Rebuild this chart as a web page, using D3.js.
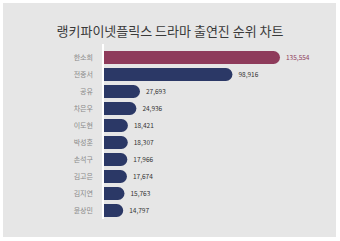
<!DOCTYPE html>
<html>
<head>
<meta charset="utf-8">
<script src="https://cdn.jsdelivr.net/npm/d3@7"></script>
<style>
  body { margin: 0; background: #fff; }
  text { font-family: "Noto Sans CJK KR", "Noto Sans", sans-serif; }
</style>
</head>
<body>
<div id="chart"></div>
<script>
// chart data
const names = ["한소희", "전종서", "공유", "차은우", "이도현", "박성훈", "손석구", "김고은", "김지연", "윤상민"];
const scores = [135554, 98916, 27693, 24936, 18421, 18307, 17966, 17674, 15763, 14797];
const title = "랭키파이넷플릭스 드라마 출연진 순위 차트";

function makeChart() {
    let svgWidth = 340;
    let svgHeight = 241;
    let margin = { top: 47, right: 60, bottom: 20, left: 104 };

    let w = svgWidth - margin.left - margin.right;
    let h = svgHeight - margin.top - margin.bottom;

    let svg = d3.select("#chart")
        .append("svg")
        .attr("width", svgWidth)
        .attr("height", svgHeight);

    // panel background
    svg.append("rect")
        .attr("x", 3).attr("y", 3)
        .attr("width", 333).attr("height", 234)
        .attr("fill", "#e6e6e6");

    svg.append("text")
        .attr("x", 170)
        .attr("y", 36)
        .attr("text-anchor", "middle")
        .attr("font-size", "13px")
        .attr("fill", "#3a3a3a")
        .text(title);

    let chartGroup = svg.append("g")
        .attr("transform", `translate(${margin.left}, ${margin.top})`);

    let x = d3.scaleLinear()
        .domain([0, d3.max(scores)])
        .range([0, 176]);

    let y = d3.scaleBand()
        .domain(names)
        .range([0, h])
        .padding(0.24);

    // white baseline
    chartGroup.append("line")
        .attr("x1", -1).attr("x2", -1)
        .attr("y1", -3).attr("y2", h - 2)
        .attr("stroke", "#fff")
        .attr("stroke-width", 2);

    // bar with rounded right end
    function barPath(d, i) {
        let bw = x(scores[i]);
        let bh = y.bandwidth();
        let r = Math.min(bh / 2, bw);
        let y0 = y(d);
        return `M0,${y0}H${bw - r}A${r},${r} 0 0 1 ${bw},${y0 + r}`
            + `V${y0 + bh - r}A${r},${r} 0 0 1 ${bw - r},${y0 + bh}H0Z`;
    }

    chartGroup.selectAll("path.bar")
        .data(names)
        .enter()
        .append("path")
        .attr("class", "bar")
        .attr("d", barPath)
        .attr("fill", (d, i) => i === 0 ? "#8e3b5b" : "#2b3866");

    chartGroup.selectAll("text.name")
        .data(names)
        .enter()
        .append("text")
        .attr("class", "name")
        .attr("x", -11)
        .attr("y", d => y(d) + y.bandwidth() / 2)
        .attr("dy", "0.35em")
        .attr("text-anchor", "end")
        .attr("font-size", "7px")
        .attr("fill", "#8a8a8a")
        .text(d => d);

    chartGroup.selectAll("text.val")
        .data(names)
        .enter()
        .append("text")
        .attr("class", "val")
        .attr("x", (d, i) => x(scores[i]) + 6)
        .attr("y", d => y(d) + y.bandwidth() / 2)
        .attr("dy", "0.35em")
        .attr("font-size", "6.5px")
        .attr("fill", (d, i) => i === 0 ? "#8e3b5b" : "#333")
        .text((d, i) => d3.format(",")(scores[i]));
}

makeChart();
</script>
</body>
</html>
